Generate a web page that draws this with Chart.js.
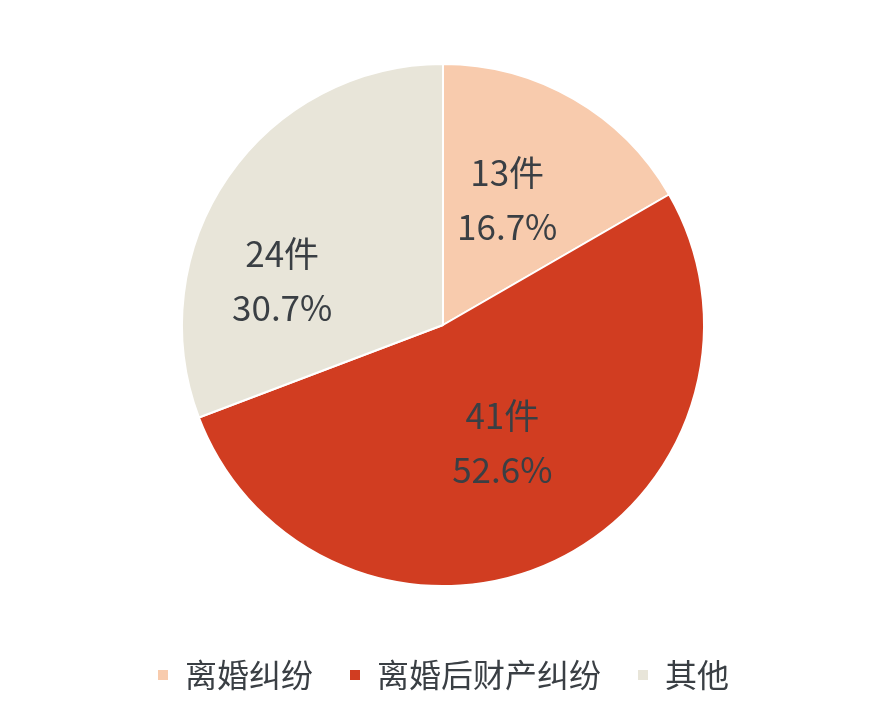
<!DOCTYPE html>
<html>
<head>
<meta charset="utf-8">
<script src="https://cdn.jsdelivr.net/npm/chart.js@4"></script>
<style>
  html, body { margin: 0; padding: 0; background: #fff; }
  #wrap { width: 886px; height: 709px; }
</style>
</head>
<body>
<div id="wrap"><canvas id="pieChart"></canvas></div>
<script>
const categories = ['离婚纠纷', '离婚后财产纠纷', '其他'];
const caseCounts = [13, 41, 24];
const percentLabels = ['16.7%', '52.6%', '30.7%'];
const sliceColors = ['#F8CBAD', '#D13D21', '#E8E5D9'];

const textColor = '#3A3F44';
const cjkFont = '"Noto Sans CJK SC", "Noto Sans", sans-serif';

// draws "N件 / xx.x%" inside each slice
const sliceLabels = {
    id: 'sliceLabels',
    afterDatasetsDraw(chart, args, opts) {
        const { ctx } = chart;
        const meta = chart.getDatasetMeta(0);
        ctx.save();
        ctx.font = '35px ' + cjkFont;
        ctx.fillStyle = textColor;
        ctx.textAlign = 'center';
        ctx.textBaseline = 'middle';
        meta.data.forEach((arc, i) => {
            const mid = (arc.startAngle + arc.endAngle) / 2;
            const r = arc.outerRadius * opts.radiusFrac;
            const nudge = opts.nudge[i] || [0, 0];
            const x = arc.x + Math.cos(mid) * r + nudge[0];
            const y = arc.y + Math.sin(mid) * r + nudge[1];
            ctx.fillText(caseCounts[i] + '件', x, y - 27);
            ctx.fillText(percentLabels[i], x, y + 27);
        });
        ctx.restore();
    }
};

const ctx = document.getElementById('pieChart').getContext('2d');
new Chart(ctx, {
    type: 'pie',
    data: {
        labels: categories,
        datasets: [{
            data: caseCounts,
            backgroundColor: sliceColors,
            borderColor: '#FFFFFF',
            borderWidth: 2,
            radius: 261
        }]
    },
    options: {
        responsive: true,
        maintainAspectRatio: false,
        animation: false,
        layout: { padding: { top: 27, bottom: 8, left: 0, right: 0 } },
        plugins: {
            legend: {
                position: 'bottom',
                labels: {
                    boxWidth: 12,
                    boxHeight: 12,
                    padding: 36,
                    color: textColor,
                    font: { size: 32, family: cjkFont }
                }
            },
            tooltip: { enabled: false },
            sliceLabels: {
                radiusFrac: 0.53,
                nudge: [[-5, -5], [0, -7], [-47, 34]]
            }
        }
    },
    plugins: [sliceLabels]
});
</script>
</body>
</html>
